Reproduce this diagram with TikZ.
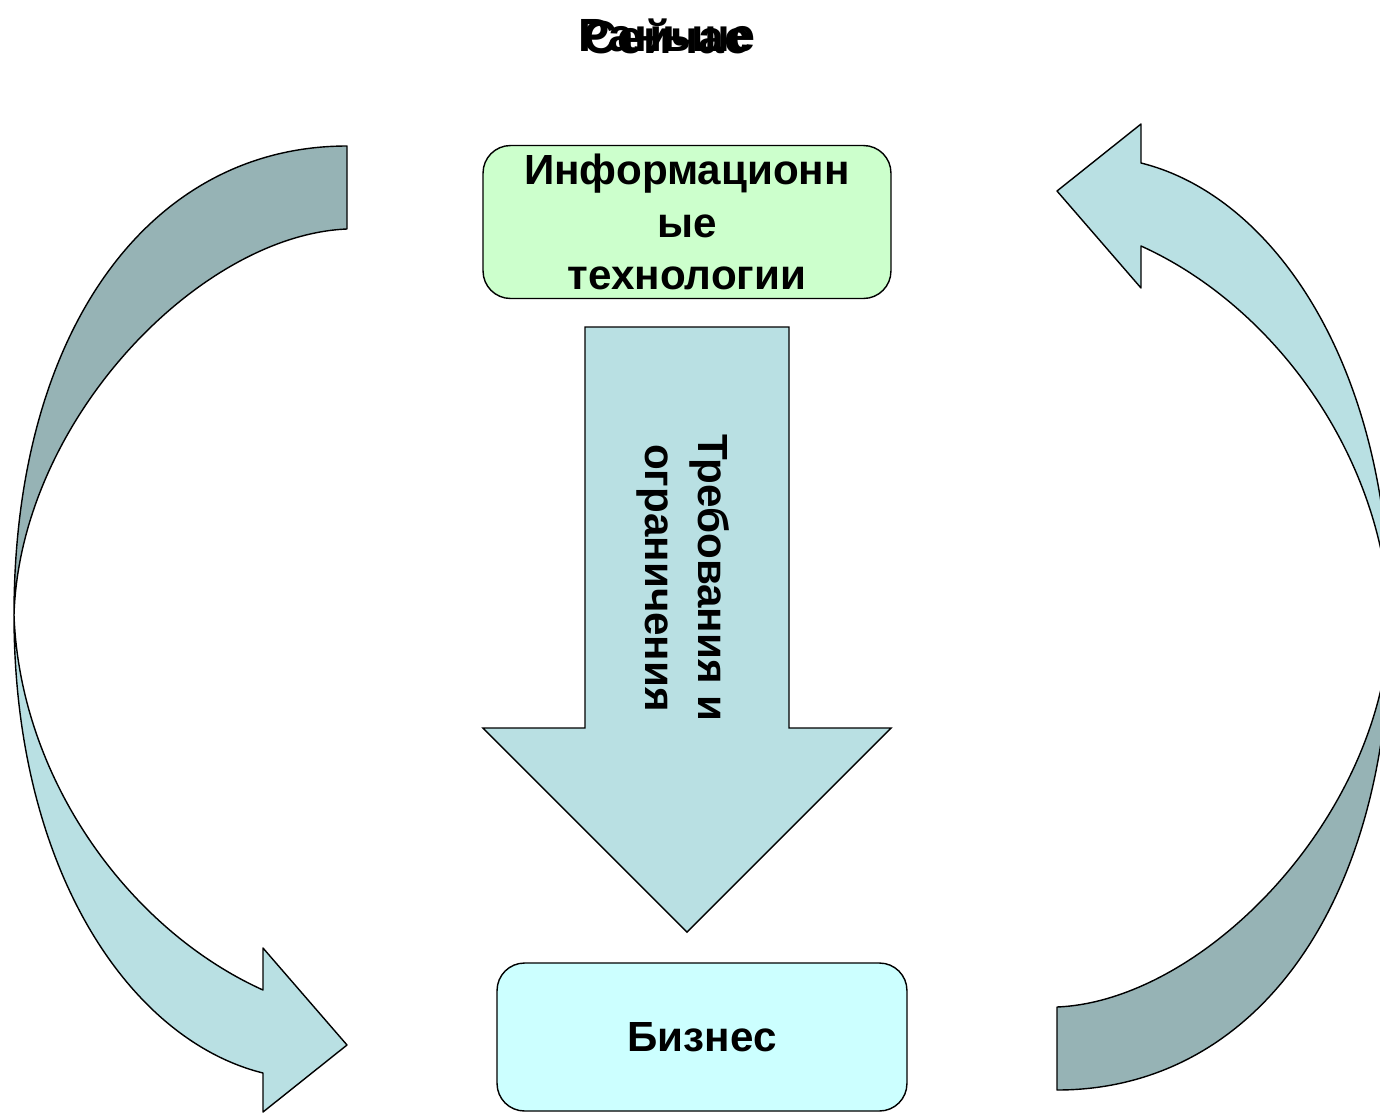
\documentclass[tikz,border=0pt]{standalone}
\usepackage{fontspec}
\setmainfont{Liberation Sans}
\usepackage{tikz}
\usetikzlibrary{calc}
\definecolor{itgreen}{HTML}{CCFFCC}
\definecolor{bizcyan}{HTML}{CCFFFF}
\definecolor{arrowlight}{HTML}{B9E0E3}
\definecolor{arrowdark}{HTML}{96B3B5}
\newcommand{\bendarrow}{%
  % back side of the band
  \filldraw[band, fill=arrowdark] (347,146) .. controls (150,146) and (14,330) .. (14,615)
    .. controls (20,420) and (200,235) .. (347,229) -- cycle;
  % front side with the head
  \filldraw[band, fill=arrowlight] (14,615) .. controls (14,870) and (130,1040) .. (263,1073)
    -- (263,1112) -- (347,1045) -- (263,948) -- (263,990)
    .. controls (130,930) and (20,780) .. (14,615) -- cycle;
}
\begin{document}
\begin{tikzpicture}[x=0.02cm, y=-0.02cm,
    band/.style = {draw=black, line width=0.8pt, line join=round},
    bigfont/.style = {font=\fontsize{24pt}{30pt}\selectfont\bfseries},
    titlefont/.style = {font=\fontsize{26.5pt}{30pt}\selectfont\bfseries},
    box/.style = {draw, line width=0.8pt, rounded corners=0.55cm, minimum width=8.16cm, bigfont, align=center}]
        \useasboundingbox (0,0) rectangle (1380,1113);
        \clip (0,0) rectangle (1380,1113);
        \node[titlefont] at (667,36) (before) {Раньше};
        \node[titlefont] at (667,36) (now) {Сейчас};
        \bendarrow
        \begin{scope}[rotate around={180:(702,618)}]
        \bendarrow
        \end{scope}
        \node[box, fill=itgreen, minimum height=3.06cm] at (687,222) (it) {Информационн\\ые\\технологии};
        \node[box, fill=bizcyan, minimum width=8.2cm, minimum height=2.96cm] at (702,1037) (biz) {Бизнес};
        %\draw[->] (it) -- (biz);
        \filldraw[band, fill=arrowlight, line join=miter] (585,327) -- (789,327) -- (789,728) -- (891,728) -- (687,932) -- (483,728) -- (585,728) -- cycle;
        \node[bigfont, rotate=-90, align=center] at (683,578) (req) {Требования и\\ограничения};
\end{tikzpicture}
\end{document}
